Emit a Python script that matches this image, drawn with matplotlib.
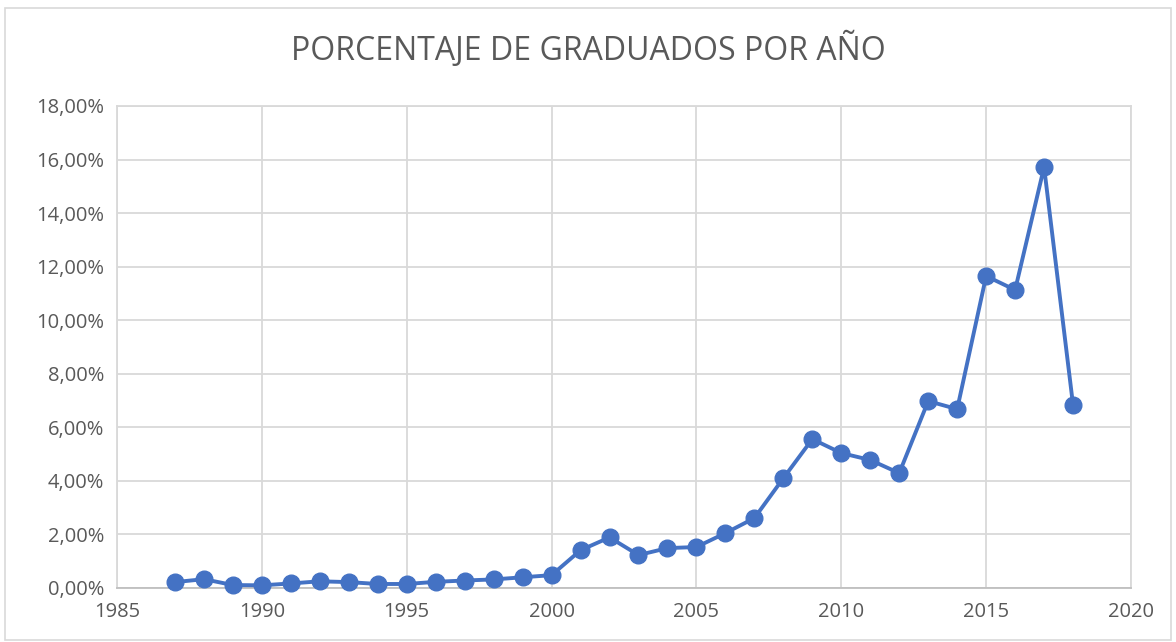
import matplotlib.pyplot as plt
from matplotlib.patches import Rectangle
from matplotlib.ticker import FuncFormatter

years = list(range(1987, 2019))
percent = [0.22, 0.33, 0.11, 0.10, 0.17, 0.25, 0.22, 0.15, 0.15, 0.23,
           0.28, 0.32, 0.40, 0.48, 1.41, 1.89, 1.23, 1.49, 1.53, 2.05,
           2.61, 4.10, 5.56, 5.04, 4.78, 4.29, 6.98, 6.68, 11.65, 11.13,
           15.72, 6.83]
title = "PORCENTAJE DE GRADUADOS POR AÑO"

plt.rcParams['font.family'] = ['Open Sans', 'DejaVu Sans']
text_col = '#595959'
grid_col = '#D9D9D9'

fig = plt.figure(figsize=(11.76, 6.42), dpi=100)
fig.patches.append(Rectangle((5 / 1176, 2 / 642), 1166 / 1176, 632 / 642,
                             transform=fig.transFigure, fill=False,
                             edgecolor=grid_col, linewidth=1.2))
ax = fig.add_axes([117 / 1176, 54 / 642, 1014 / 1176, 482 / 642])

ax.plot(years, percent, color='#4472C4', linewidth=2.8, marker='o',
        markersize=12, zorder=3, clip_on=False)

ax.set_xlim(1985, 2020)
ax.set_ylim(0, 18)
ax.set_xticks(range(1985, 2021, 5))
ax.set_yticks(range(0, 19, 2))
ax.yaxis.set_major_formatter(FuncFormatter(lambda v, p: f"{v:.2f}%".replace('.', ',')))
ax.grid(True, color=grid_col, linewidth=1.3)
ax.set_axisbelow(True)
for s in ['top', 'right', 'left']:
    ax.spines[s].set_color(grid_col)
    ax.spines[s].set_linewidth(1.3)
ax.spines['bottom'].set_color('#BFBFBF')
ax.spines['bottom'].set_linewidth(1.3)
ax.tick_params(length=0, labelsize=14.5, labelcolor=text_col)
ax.tick_params(axis='x', pad=10)
ax.tick_params(axis='y', pad=9)

fig.text(0.5, 0.922, title, ha='center', va='center', fontsize=23, color=text_col)

fig.savefig('out.png', dpi=100)
